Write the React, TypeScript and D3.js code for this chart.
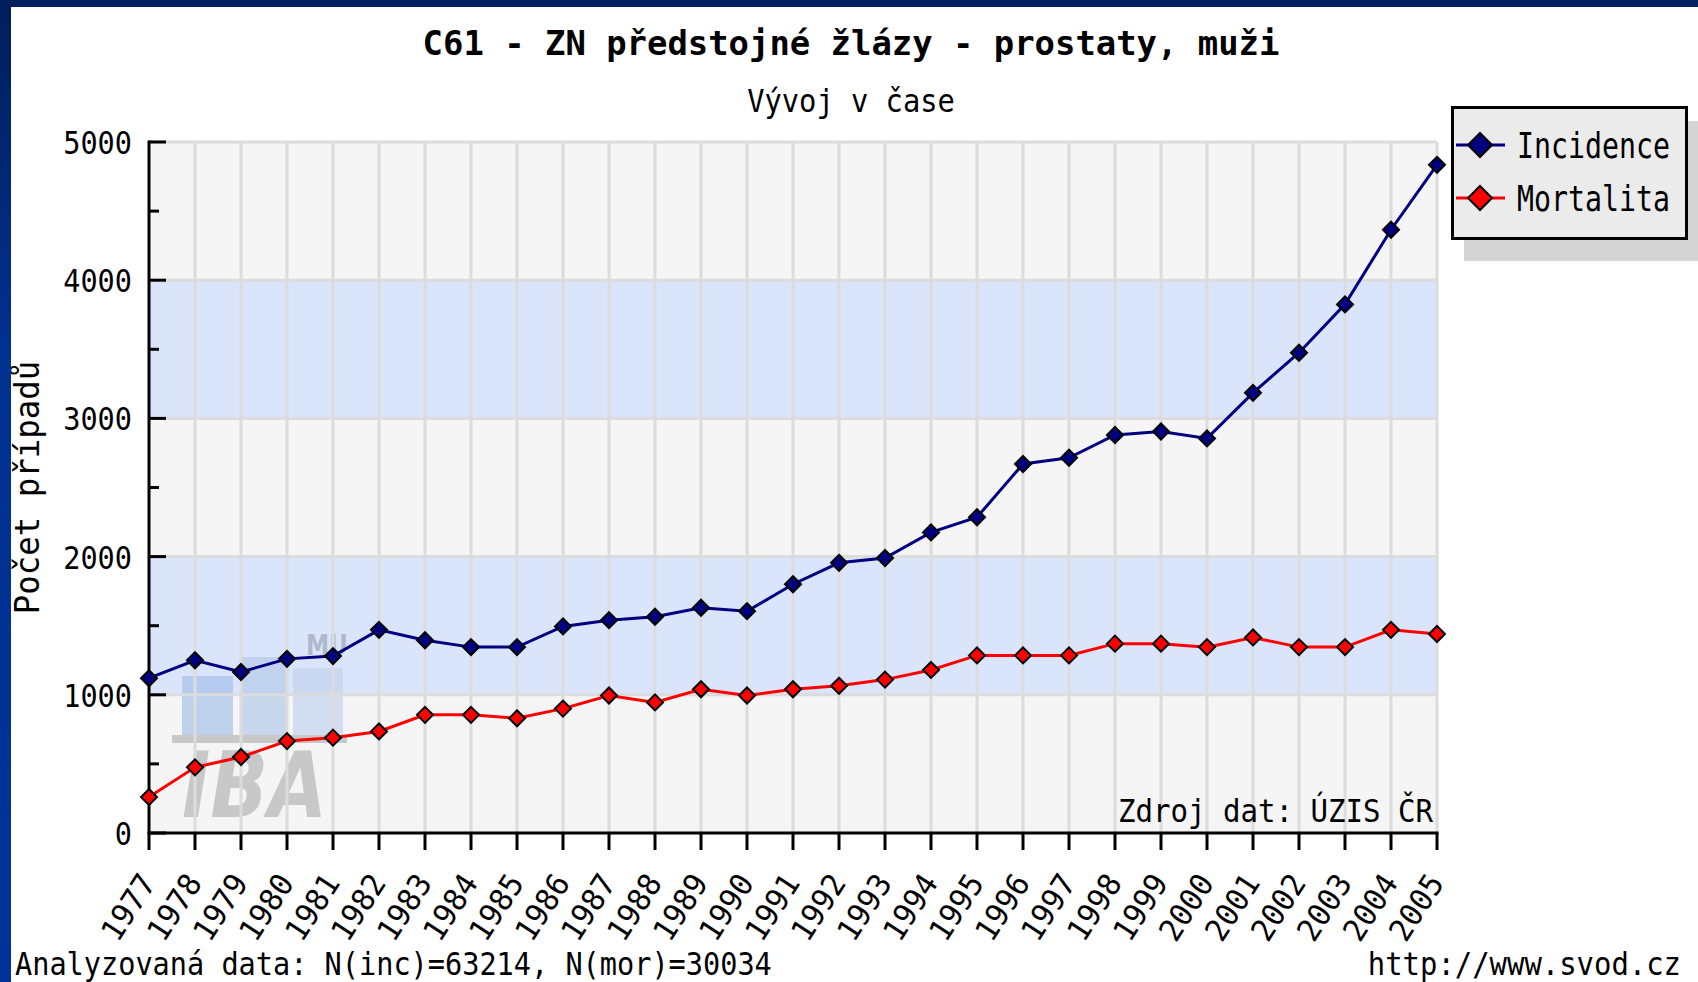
import * as d3 from "d3";

const years = ["1977", "1978", "1979", "1980", "1981", "1982", "1983", "1984", "1985", "1986", "1987", "1988", "1989", "1990", "1991", "1992", "1993", "1994", "1995", "1996", "1997", "1998", "1999", "2000", "2001", "2002", "2003", "2004", "2005"];
const incidence = [1120, 1250, 1165, 1260, 1280, 1470, 1395, 1345, 1345, 1495, 1540, 1565, 1630, 1605, 1800, 1955, 1990, 2175, 2285, 2670, 2715, 2880, 2905, 2855, 3185, 3475, 3825, 4365, 4835];
const mortalita = [260, 475, 550, 665, 690, 735, 855, 855, 830, 900, 995, 945, 1040, 995, 1040, 1065, 1110, 1180, 1285, 1285, 1285, 1370, 1370, 1345, 1415, 1345, 1345, 1470, 1440];
const yTicks = [0, 1000, 2000, 3000, 4000, 5000];
const yMinor = [500, 1500, 2500, 3500, 4500];
const bands = [[1000, 2000], [3000, 4000]];

const series = [
  {name: "Incidence", values: incidence, color: "#000080"},
  {name: "Mortalita", values: mortalita, color: "#ff0000"},
];

const W = 1698;
const H = 982;
const FONT = "'DejaVu Sans Mono', 'Liberation Mono', monospace";

const x = d3.scalePoint<string>().domain(years).range([149, 1437]);
const y = d3.scaleLinear().domain([0, 5000]).range([833, 142]);

const line = d3
  .line<number>()
  .x((_, i) => x(years[i]) as number)
  .y((d) => y(d));

const diamond = (cx: number, cy: number, r: number) =>
  `M${cx},${cy - r}L${cx + r},${cy}L${cx},${cy + r}L${cx - r},${cy}Z`;

// monospace text squeezed to a fixed width per character
const Mono = ({x, y, text, size, cw, anchor = "start", bold = false, transform}: any) => (
  <text
    x={x}
    y={y}
    fontFamily={FONT}
    fontSize={size}
    fontWeight={bold ? "bold" : "normal"}
    textAnchor={anchor}
    textLength={text.length * cw}
    lengthAdjust="spacingAndGlyphs"
    transform={transform}
    fill="#000"
  >
    {text}
  </text>
);

const App = () => {
  const [x0, x1] = x.range();
  const [yb, yt] = y.range();

  return (
    <div style={{position: "absolute", left: 0, top: 0, width: W, height: H, background: "#fff"}}>
      <svg width={W} height={H} viewBox={`0 0 ${W} ${H}`}>
        <defs>
          <linearGradient id="leftbar" x1="0" y1="0" x2="0" y2="1">
            <stop offset="0%" stopColor="#001e5a" />
            <stop offset="35%" stopColor="#00318f" />
            <stop offset="100%" stopColor="#003399" />
          </linearGradient>
        </defs>
        <rect x={0} y={0} width={W} height={H} fill="#fff" />

        {/* titles */}
        <Mono x={851} y={55} text="C61 - ZN předstojné žlázy - prostaty, muži" size={34} cw={20.4} anchor="middle" bold />
        <Mono x={851} y={112} text="Vývoj v čase" size={32} cw={17.3} anchor="middle" />

        {/* plot background */}
        <rect x={x0} y={yt} width={x1 - x0} height={yb - yt} fill="#f5f5f5" />
        {bands.map(([a, b]) => (
          <rect key={a} x={x0} y={y(b)} width={x1 - x0} height={y(a) - y(b)} fill="#dae4fb" />
        ))}

        {/* watermark */}
        <g>
          <rect x={182} y={676} width={51} height={60} fill="#a9c4ea" opacity={0.75} />
          <rect x={240} y={657} width={47} height={79} fill="#b7cbe8" opacity={0.7} />
          <rect x={293} y={668} width={50} height={68} fill="#c5d3ee" opacity={0.7} />
          <rect x={172} y={735} width={175} height={8} fill="#c8c8c8" />
          <text x={182} y={817} fontFamily="'DejaVu Sans', sans-serif" fontWeight="bold" fontStyle="italic" fontSize={90} fill="#c8c8c8" textLength={145} lengthAdjust="spacingAndGlyphs">IBA</text>
          <text x={306} y={655} fontFamily="'DejaVu Sans', sans-serif" fontWeight="bold" fontSize={28} fill="#b0b8cc" textLength={42} lengthAdjust="spacingAndGlyphs">MU</text>
        </g>

        {/* grid */}
        {yTicks.filter((t) => t > 0).map((t) => (
          <line key={t} x1={x0} x2={x1} y1={y(t)} y2={y(t)} stroke="#dcdcdc" strokeWidth={3} />
        ))}
        {years.slice(1).map((yr) => (
          <line key={yr} x1={x(yr)} x2={x(yr)} y1={yt} y2={yb} stroke="#dcdcdc" strokeWidth={3} />
        ))}

        <Mono x={1433} y={822} text="Zdroj dat: ÚZIS ČR" size={32} cw={17.5} anchor="end" />

        {/* y axis */}
        <line x1={x0} x2={x0} y1={yt - 1.5} y2={yb} stroke="#000" strokeWidth={3} />
        {yTicks.map((t) => (
          <g key={t}>
            <line x1={x0} x2={x0 + 17} y1={y(t)} y2={y(t)} stroke="#000" strokeWidth={3} />
            <Mono x={132} y={y(t) + 12} text={String(t)} size={32} cw={17.2} anchor="end" />
          </g>
        ))}
        {yMinor.map((t) => (
          <line key={t} x1={x0} x2={x0 + 10} y1={y(t)} y2={y(t)} stroke="#000" strokeWidth={3} />
        ))}
        <Mono x={0} y={0} text="Počet případů" size={34} cw={19.5} anchor="middle" transform={`translate(39,${(yt + yb) / 2}) rotate(-90)`} />

        {/* x axis */}
        <line x1={x0 - 1.5} x2={x1 + 1.5} y1={yb} y2={yb} stroke="#000" strokeWidth={3} />
        {years.map((yr) => (
          <g key={yr}>
            <line x1={x(yr)} x2={x(yr)} y1={yb} y2={yb + 17} stroke="#000" strokeWidth={3} />
            <Mono x={0} y={0} text={yr} size={31} cw={18} anchor="end" transform={`translate(${(x(yr) as number) + 8},${yb + 50}) rotate(-57)`} />
          </g>
        ))}

        {/* series */}
        {series.map((s) => (
          <g key={s.name}>
            <path d={line(s.values) as string} fill="none" stroke={s.color} strokeWidth={3} />
            {s.values.map((v, i) => (
              <path key={i} d={diamond(x(years[i]) as number, y(v), 8)} fill={s.color} stroke="#000" strokeWidth={2} />
            ))}
          </g>
        ))}

        {/* legend */}
        <rect x={1464} y={121} width={234} height={140} fill="#d4d4d4" />
        <rect x={1452.5} y={107.5} width={234} height={131} fill="#ebebeb" stroke="#000" strokeWidth={3} />
        {series.map((s, i) => {
          const ly = 145 + i * 53;
          return (
            <g key={s.name}>
              <line x1={1456} x2={1505} y1={ly} y2={ly} stroke={s.color} strokeWidth={3} />
              <path d={diamond(1480, ly, 12)} fill={s.color} stroke="#000" strokeWidth={2} />
              <Mono x={1517} y={ly + 13} text={s.name} size={35} cw={17} />
            </g>
          );
        })}

        {/* footer */}
        <Mono x={15} y={975} text="Analyzovaná data: N(inc)=63214, N(mor)=30034" size={32} cw={17.2} />
        <Mono x={1681} y={975} text="http://www.svod.cz" size={32} cw={17.4} anchor="end" />

        {/* frame */}
        <rect x={0} y={0} width={W} height={7} fill="#00205f" />
        <rect x={0} y={0} width={11} height={H} fill="url(#leftbar)" />
      </svg>
    </div>
  );
};

export default App;
